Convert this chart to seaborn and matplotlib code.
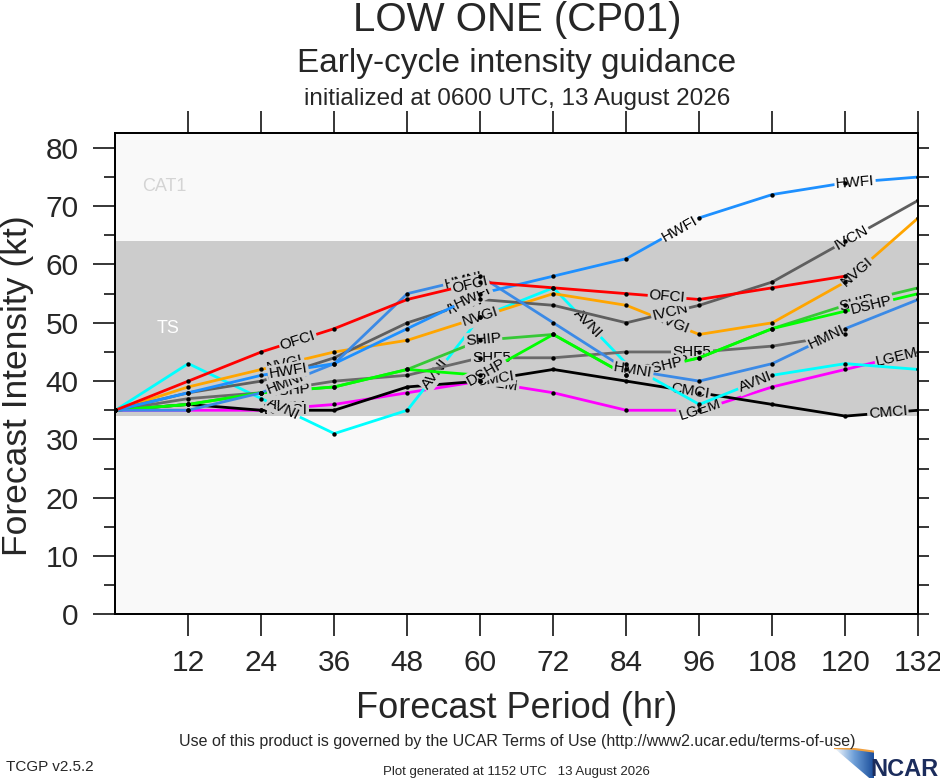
import numpy as np
import pandas as pd
import matplotlib
matplotlib.use("Agg")
import matplotlib.pyplot as plt
from matplotlib.ticker import MultipleLocator
from matplotlib.patches import Polygon, Rectangle
import seaborn as sns

# ---------------- data ----------------
hours = [0, 12, 24, 36, 48, 60, 72, 84, 96, 108, 120, 132]

ofci = [35, 40, 45, 49, 54, 57, 56, 55, 54, 56, 58]
hwfi = [35, 38, 41, 43, 49, 55, 58, 61, 68, 72, 74, 75]
hmni = [35, 35, 38, 43, 55, 58, 50, 42, 40, 43, 49, 54]
ivcn = [35, 38, 40, 44, 50, 54, 53, 50, 53, 57, 64, 71]
nvgi = [35, 39, 42, 45, 47, 51, 55, 53, 48, 50, 57, 68]
shf5 = [35, 37, 38, 40, 41, 44, 44, 45, 45, 46, 48]
ship = [35, 36, 38, 39, 42, 47, 48, 41, 44, 49, 53, 56]
dshp = [35, 36, 38, 39, 42, 41, 48, 41, 44, 49, 52, 55]
avni = [35, 43, 37, 31, 35, 51, 56, 43, 36, 41, 43, 42]
lgem = [35, 35, 35, 36, 38, 40, 38, 35, 35, 39, 42, 45]
cmci = [35, 36, 35, 35, 39, 40, 42, 40, 38, 36, 34, 35]

# drawing order (first drawn = bottom)
models = ["LGEM", "CMCI", "AVNI", "SHF5", "SHIP", "DSHP", "NVGI", "IVCN", "HMNI", "HWFI", "OFCI"]
series = {"OFCI": ofci, "HWFI": hwfi, "HMNI": hmni, "IVCN": ivcn, "NVGI": nvgi,
          "SHF5": shf5, "SHIP": ship, "DSHP": dshp, "AVNI": avni, "LGEM": lgem, "CMCI": cmci}
colors = {"OFCI": "#ff0000", "HWFI": "#1e90ff", "HMNI": "#3b8ae6", "IVCN": "#5f5f5f",
          "NVGI": "#ffa500", "SHF5": "#6a6a6a", "SHIP": "#36c836", "DSHP": "#00ff00",
          "AVNI": "#00ffff", "LGEM": "#ff00ff", "CMCI": "#000000"}
label_hours = {"OFCI": [30, 58.3, 90.7], "HWFI": [28.4, 58.8, 92.8, 121.6],
               "HMNI": [28, 57.2, 85.1, 117], "IVCN": [27.9, 57.5, 91.2, 121],
               "NVGI": [27.9, 60, 91.5, 121.9], "SHF5": [28.2, 61.9, 94.8],
               "SHIP": [28.4, 60.5, 91.5, 121.9], "DSHP": [28.6, 61, 90, 124.3],
               "AVNI": [27.6, 52.6, 77.7, 105.2], "LGEM": [27.9, 62.7, 96.1, 128.5],
               "CMCI": [28.4, 62.4, 94.5, 127]}

xticks = [12, 24, 36, 48, 60, 72, 84, 96, 108, 120, 132]
yticks = [0, 10, 20, 30, 40, 50, 60, 70, 80]
ts_band = (34, 64)

rows = []
for m in models:
    for h, v in zip(hours, series[m]):
        rows.append({"model": m, "hour": h, "kt": v})
df = pd.DataFrame(rows)

# ---------------- style ----------------
sns.set_style("ticks")
plt.rcParams['font.family'] = ['Liberation Sans', 'DejaVu Sans']

BAND = '#cccccc'
BG = '#f9f9f9'

fig = plt.figure(figsize=(9.4, 7.8), dpi=100)
ax = fig.add_axes([0.1227, 0.2124, 0.8542, 0.6167])
ax.set_xlim(0, 132)
ax.set_ylim(0, 82.5)
ax.set_facecolor(BG)
ax.axhspan(ts_band[0], ts_band[1], color=BAND, lw=0, zorder=0.5)

ax.text(8.0, 73.3, "CAT1", color='#d4d4d4', fontsize=13, ha='center', va='center', zorder=1)
ax.text(8.6, 49.0, "TS", color='white', fontsize=13, ha='center', va='center', zorder=1)

# clip regions for label backgrounds
clip_regions = [
    (Rectangle((0, ts_band[0]), 132, ts_band[1] - ts_band[0], transform=ax.transData), BAND),
    (Rectangle((0, ts_band[1]), 132, 40, transform=ax.transData), BG),
    (Rectangle((0, 0), 132, ts_band[0], transform=ax.transData), BG),
]

for i, m in enumerate(models):
    sub = df[df.model == m]
    z = 2 + i * 0.1
    sns.lineplot(data=sub, x="hour", y="kt", color=colors[m], lw=2, ax=ax,
                 estimator=None, sort=False, legend=False, zorder=z)
    hh = sub["hour"].to_numpy(float)
    vv = sub["kt"].to_numpy(float)
    for lh in label_hours[m]:
        if lh > hh.max():
            continue
        lv = np.interp(lh, hh, vv)
        k = min(np.searchsorted(hh, lh, side='right') - 1, len(hh) - 2)
        p1 = ax.transData.transform((hh[k], vv[k]))
        p2 = ax.transData.transform((hh[k + 1], vv[k + 1]))
        ang = np.degrees(np.arctan2(p2[1] - p1[1], p2[0] - p1[0]))
        kw = dict(fontsize=11, ha='center', va='center', rotation=ang,
                  rotation_mode='anchor')
        for rect, fc in clip_regions:
            t = ax.text(lh, lv, m, color='none', zorder=z + 0.04, clip_on=True,
                        bbox=dict(boxstyle='square,pad=0.08', fc=fc, ec='none'), **kw)
            t.set_clip_path(rect)
            t.set_clip_on(True)
            bp = t.get_bbox_patch()
            if bp is not None:
                bp.set_clip_path(rect)
                bp.set_clip_on(True)
        ax.text(lh, lv, m, color='black', zorder=z + 0.05, **kw)

sns.scatterplot(data=df, x="hour", y="kt", color='black', s=10, linewidth=0,
                ax=ax, legend=False, zorder=20)

# ---------------- axes ----------------
ax.set_xticks(xticks)
ax.set_xticklabels([str(t) for t in xticks])
ax.set_yticks(yticks)
ax.set_yticklabels([str(t) for t in yticks])
ax.yaxis.set_minor_locator(MultipleLocator(5))
ax.tick_params(axis='x', which='major', direction='out', length=16, width=1.3,
               labelsize=21.5, top=True, bottom=True, pad=9)
ax.tick_params(axis='y', which='major', direction='out', length=16, width=1.3,
               labelsize=21.5, left=True, right=False, pad=10.5)
ax.tick_params(axis='y', which='minor', direction='out', length=8, width=1.3,
               left=True, right=False)
axr = ax.twinx()
axr.set_ylim(ax.get_ylim())
axr.yaxis.set_major_locator(MultipleLocator(5))
axr.tick_params(axis='y', direction='out', length=8, width=1.3, labelright=False)
for a in (ax, axr):
    for s in a.spines.values():
        s.set_linewidth(1.3)
        s.set_color('black')
        s.set_visible(True)
ax.set_xlabel("")
ax.set_ylabel("")
axr.set_ylabel("")

cx = 0.5498
fig.text(cx, 0.079, "Forecast Period (hr)", fontsize=26, ha='center', va='baseline')
fig.text(0.019, 0.506, "Forecast Intensity (kt)", fontsize=25.5, ha='center', va='center',
         rotation=90)

# ---------------- titles & footer ----------------
fig.text(cx, 0.960, "LOW ONE (CP01)", fontsize=29, ha='center', va='baseline')
fig.text(cx, 0.908, "Early-cycle intensity guidance", fontsize=24, ha='center', va='baseline')
fig.text(cx, 0.866, "initialized at 0600 UTC, 13 August 2026", fontsize=17.5, ha='center', va='baseline')
fig.text(cx, 0.043, "Use of this product is governed by the UCAR Terms of Use (http://www2.ucar.edu/terms-of-use)",
         fontsize=11.5, ha='center', va='baseline')
fig.text(0.006, 0.012, "TCGP v2.5.2", fontsize=11, ha='left', va='baseline')
fig.text(cx, 0.006, "Plot generated at 1152 UTC   13 August 2026", fontsize=9.5, ha='center', va='baseline')

# NCAR logo
lax = fig.add_axes([834 / 940, 2 / 780, 40 / 940, 30 / 780])
lax.set_axis_off()
grad = np.linspace(0, 1, 64)[None, :]
im = lax.imshow(grad, cmap=sns.blend_palette(["#ffffff", "#6fa0d8", "#1c4f9c"], as_cmap=True),
                extent=(0, 1, 0, 1), aspect='auto')
poly = Polygon([(0, 1), (0.5, 0.97), (1, 0.88), (1, 0), (0.88, 0)], closed=True,
               transform=lax.transData, fc='none', ec='none')
lax.add_patch(poly)
im.set_clip_path(poly)
lax.plot([0, 0.5, 1], [1, 0.97, 0.88], color='#f0a040', lw=1.5)
lax.set_xlim(0, 1)
lax.set_ylim(0, 1)
fig.text(0.998, 0.005, "NCAR", fontsize=17, fontweight='bold', color='#1b2c5c',
         ha='right', va='baseline')

fig.savefig("out.png", dpi=100, facecolor='white')
